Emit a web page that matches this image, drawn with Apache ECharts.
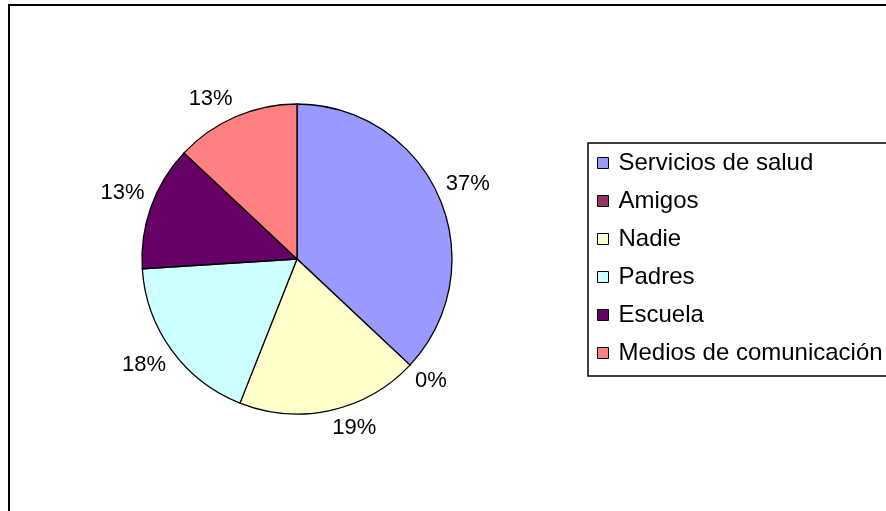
<!DOCTYPE html>
<html>
<head>
<meta charset="utf-8">
<script src="https://cdn.jsdelivr.net/npm/echarts@6/dist/echarts.min.js"></script>
<style>
  html, body { margin: 0; padding: 0; background: #fff; }
  #chart { width: 886px; height: 511px; }
</style>
</head>
<body>
<div id="chart"></div>
<script>
var categories = ['Servicios de salud', 'Amigos', 'Nadie', 'Padres', 'Escuela', 'Medios de comunicación'];
var values = [37, 0, 19, 18, 13, 13];
var colors = ['#9999FF', '#993366', '#FFFFCC', '#CCFFFF', '#660066', '#FF8080'];

var pieCenter = [297, 259];
var pieRadius = 155;
var labelGap = 7; // gap between the rim and the nearest corner of a label

var myChart = echarts.init(document.getElementById('chart'), null, {renderer: 'canvas'});

var pieData = categories.map(function (name, i) {
    return { name: name, value: values[i], itemStyle: { color: colors[i] } };
});

// mid angle of each slice, clockwise from 12 o'clock
var total = values.reduce(function (a, b) { return a + b; }, 0);
var midAngles = [];
var acc = 0;
values.forEach(function (v) {
    midAngles.push((acc + v / 2) / total * Math.PI * 2);
    acc += v;
});

var option = {
    animation: false,
    textStyle: { fontFamily: 'Liberation Sans, Arial, sans-serif' },
    graphic: [{
        type: 'rect',
        shape: { x: 9, y: 5, width: 900, height: 530 },
        style: { fill: 'none', stroke: '#000', lineWidth: 2 }
    }],
    legend: {
        orient: 'vertical',
        left: 588,
        top: 143,
        icon: 'rect',
        itemWidth: 11,
        itemHeight: 11,
        itemGap: 6,
        padding: [4, 120, 7, 9],
        borderColor: '#000',
        borderWidth: 1.5,
        itemStyle: { borderColor: '#000', borderWidth: 1 },
        textStyle: { fontSize: 24, color: '#000', lineHeight: 24, padding: [0, 0, 8, 5] },
        data: categories
    },
    series: [{
        type: 'pie',
        center: pieCenter,
        radius: pieRadius,
        startAngle: 90,
        clockwise: true,
        avoidLabelOverlap: false,
        stillShowZeroSum: true,
        itemStyle: { borderColor: '#000', borderWidth: 1.3 },
        label: {
            show: true,
            position: 'outside',
            formatter: '{c}%',
            fontSize: 22,
            color: '#000'
        },
        labelLine: { show: false, length: 12, length2: 0 },
        labelLayout: function (params) {
            var a = midAngles[params.dataIndex];
            var dx = Math.sin(a), dy = -Math.cos(a);
            var hw = params.labelRect.width / 2, hh = params.labelRect.height / 2;
            var r = pieRadius + labelGap;
            return {
                x: pieCenter[0] + r * dx + (dx >= 0 ? hw : -hw),
                y: pieCenter[1] + r * dy + (dy >= 0 ? hh : -hh),
                align: 'center',
                verticalAlign: 'middle'
            };
        },
        emphasis: { disabled: true },
        data: pieData
    }]
};

myChart.setOption(option);
</script>
</body>
</html>
